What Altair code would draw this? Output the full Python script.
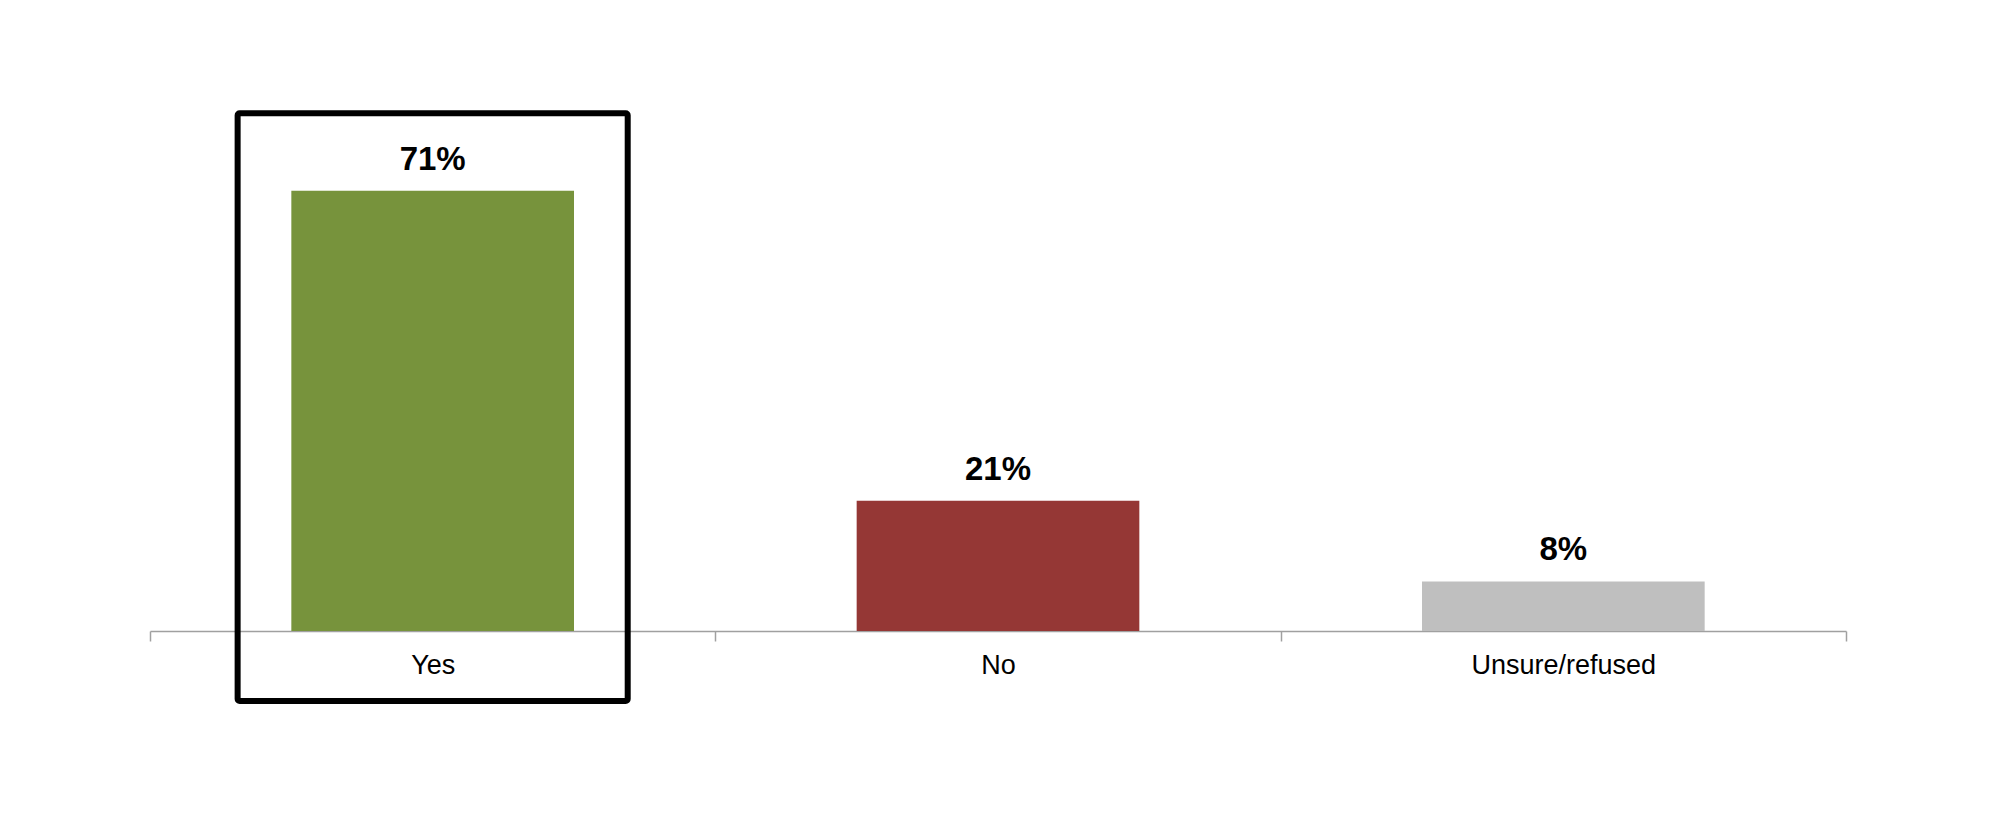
import altair as alt
import pandas as pd

categories = ["Yes", "No", "Unsure/refused"]
values = [71, 21, 8]
labels = ["71%", "21%", "8%"]
colors = ["#77933C", "#953735", "#BFBFBF"]
highlight = ["Yes"]
box_top = [83.5]
box_bottom = [-11.3]

df = pd.DataFrame({"cat": categories, "val": values, "lab": labels, "col": colors})
hl = pd.DataFrame({"cat": highlight, "top": box_top, "bottom": box_bottom})

x = alt.X("cat:N", sort=categories, title=None,
          scale=alt.Scale(paddingInner=0, paddingOuter=0),
          axis=alt.Axis(labelAngle=0, tickBand="extent", tickSize=10, labelPadding=11,
                        labelLimit=0,
                        domainColor="#A0A0A0", tickColor="#A0A0A0", domainWidth=1.5, tickWidth=1.5,
                        labelFont="Liberation Sans", labelFontSize=27, labelColor="#000000"))
y = alt.Y("val:Q", scale=alt.Scale(domain=[0, 100]), axis=None)

bars = alt.Chart(df).mark_bar(width=alt.RelativeBandSize(0.5)).encode(
    x=x, y=y, color=alt.Color("col:N", scale=None))

text = alt.Chart(df).mark_text(baseline="bottom", dy=-14, font="Liberation Sans",
                               fontSize=33, fontWeight="bold", color="#000000").encode(
    x=alt.X("cat:N", sort=categories), y="val:Q", text="lab:N")

box = alt.Chart(hl).mark_bar(width=alt.RelativeBandSize(0.69), filled=False, stroke="#000000",
                             strokeWidth=6, cornerRadius=2, clip=False).encode(
    x=alt.X("cat:N", sort=categories), y="top:Q", y2="bottom:Q")

chart = alt.layer(bars, text, box).properties(
    width=1696, height=620,
    padding={"left": 142, "top": 3, "right": 10, "bottom": 170},
    autosize=alt.AutoSizeParams(type="none"),
).configure_view(stroke=None)

chart.save("out.html", embed_options={"renderer": "svg", "actions": False})
